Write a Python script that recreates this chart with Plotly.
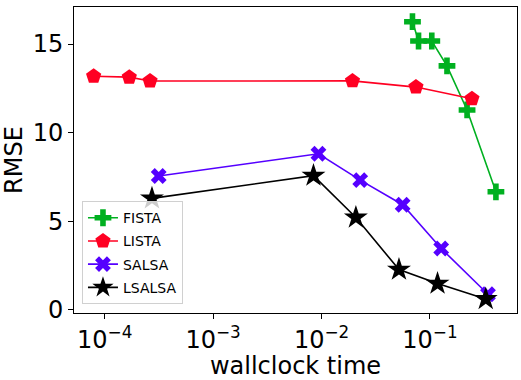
import plotly.graph_objects as go

# Data
fista_t = [0.069, 0.0785, 0.104, 0.1436, 0.22, 0.406]
fista_rmse = [16.26, 15.17, 15.17, 13.77, 11.28, 6.66]

lista_t = [7.91e-5, 1.686e-4, 2.62e-4, 0.0193, 0.0743, 0.244]
lista_rmse = [13.18, 13.13, 12.91, 12.92, 12.57, 11.91]

salsa_t = [3.15e-4, 0.00937, 0.02275, 0.056, 0.127, 0.343]
salsa_rmse = [7.55, 8.81, 7.32, 5.93, 3.46, 0.88]

lsalsa_t = [2.73e-4, 0.00843, 0.02075, 0.0518, 0.1175, 0.327]
lsalsa_rmse = [6.29, 7.57, 5.21, 2.27, 1.48, 0.61]

x_tickvals = [1e-4, 1e-3, 1e-2, 1e-1]
x_ticktext = ["10<sup>\u22124</sup>", "10<sup>\u22123</sup>", "10<sup>\u22122</sup>", "10<sup>\u22121</sup>"]
y_tickvals = [0, 5, 10, 15]

series = [
    ("FISTA", fista_t, fista_rmse, "#00b020", "cross", 14),
    ("LISTA", lista_t, lista_rmse, "#ff0022", "pentagon", 16),
    ("SALSA", salsa_t, salsa_rmse, "#5500ff", "x", 14),
    ("LSALSA", lsalsa_t, lsalsa_rmse, "#000000", "star", 18),
]

fig = go.Figure()
for name, xs, ys, color, sym, size in series:
    fig.add_trace(go.Scatter(
        x=xs, y=ys, name=name, mode="lines+markers", legendgroup=name,
        line=dict(color=color, width=1.6),
        marker=dict(symbol=sym, size=size, color=color, line=dict(width=0)),
    ))

font = "DejaVu Sans"
fig.update_layout(
    width=521, height=380,
    margin=dict(l=74, r=4, t=7, b=67),
    plot_bgcolor="white", paper_bgcolor="white",
    font=dict(family=font, color="black", size=24),
    showlegend=True,
    legend=dict(
        x=0.018, y=0.029, xanchor="left", yanchor="bottom",
        bgcolor="rgba(255,255,255,0.8)", bordercolor="#d0d0d0", borderwidth=1,
        font=dict(family=font, size=14, color="black"),
        tracegroupgap=2, itemsizing="trace",
        entrywidth=72, entrywidthmode="pixels",
    ),
    xaxis=dict(
        type="log", range=[-4.283, -0.197],
        tickvals=x_tickvals, ticktext=x_ticktext,
        ticks="outside", ticklen=5, tickwidth=1, tickcolor="black",
        showline=True, mirror=True, linecolor="black", linewidth=1,
        showgrid=False, zeroline=False,
        tickfont=dict(size=24),
        title=dict(text="wallclock time", font=dict(size=24), standoff=2),
    ),
    yaxis=dict(
        range=[-0.18, 17.09],
        tickvals=y_tickvals,
        ticks="outside", ticklen=5, tickwidth=1, tickcolor="black",
        showline=True, mirror=True, linecolor="black", linewidth=1,
        showgrid=False, zeroline=False,
        tickfont=dict(size=24),
        title=dict(text="RMSE", font=dict(size=24), standoff=4),
    ),
)

fig.write_html(
    "out.html",
    config={"displayModeBar": False},
    post_script="document.body.style.margin='0';document.body.style.padding='0';document.body.style.overflow='hidden';",
)
